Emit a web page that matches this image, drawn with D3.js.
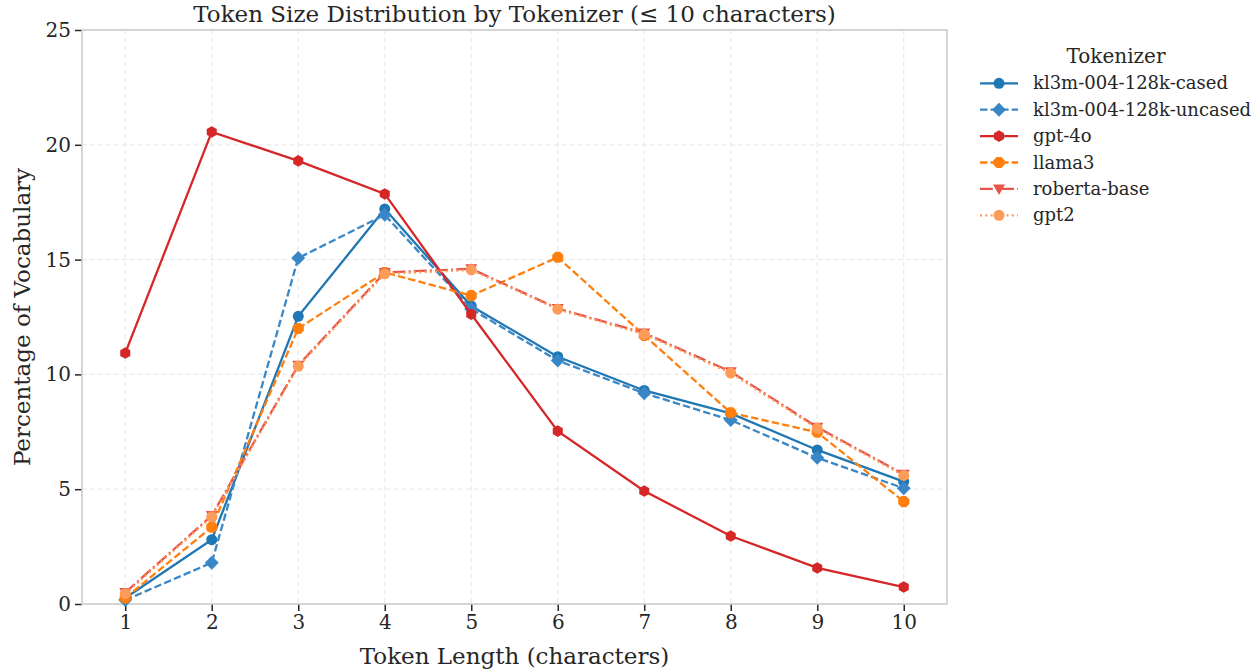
<!DOCTYPE html>
<html><head><meta charset="utf-8">
<script src="https://cdn.jsdelivr.net/npm/d3@7"></script>
<style>body{margin:0;background:#fff;} text{font-family:"DejaVu Serif",serif;fill:#262626;}</style>
</head><body><svg id="c" width="1260" height="670"></svg>
<script>
const lengths = [1,2,3,4,5,6,7,8,9,10];
const yTicks = [0,5,10,15,20,25];
const seriesNames = ["kl3m-004-128k-cased","kl3m-004-128k-uncased","gpt-4o","llama3","roberta-base","gpt2"];
const kl3mCased   = [0.26, 2.8, 12.53, 17.2, 12.98, 10.77, 9.3, 8.3, 6.71, 5.33];
const kl3mUncased = [0.17, 1.8, 15.07, 16.95, 12.85, 10.6, 9.18, 8.01, 6.37, 5.04];
const gpt4o       = [10.93, 20.56, 19.3, 17.86, 12.62, 7.53, 4.92, 2.96, 1.57, 0.74];
const llama3      = [0.26, 3.35, 12.0, 14.44, 13.43, 15.1, 11.7, 8.33, 7.48, 4.46];
const roberta     = [0.5, 3.85, 10.4, 14.44, 14.6, 12.87, 11.8, 10.12, 7.7, 5.65];
const gpt2        = [0.45, 3.8, 10.35, 14.38, 14.55, 12.84, 11.75, 10.06, 7.65, 5.6];
const colors = ["#1f77b4","#3a87c8","#d62728","#ff7f0e","#e8534a","#fd9b58"];
const dashes = [null,"7.4,3.2",null,"7.4,3.2","12.8,3.2,2,3.2","2,3.3"];
const markers = ["circle","diamond","hex","oct","tri","circle"];
const allVals = [kl3mCased,kl3mUncased,gpt4o,llama3,roberta,gpt2];

const svg = d3.select("#c");
const m = {l:82, r:947, t:30, b:604};
const x = d3.scaleLinear().domain([0.5,10.5]).range([m.l,m.r]);
const y = d3.scaleLinear().domain([0,25]).range([m.b,m.t]);

// grid
const g = svg.append("g");
g.selectAll(".gx").data(lengths).join("line").attr("x1",d=>x(d)).attr("x2",d=>x(d)).attr("y1",m.t).attr("y2",m.b)
 .attr("stroke","#ebebeb").attr("stroke-width",1.2).attr("stroke-dasharray","5,3");
g.selectAll(".gy").data(yTicks).join("line").attr("y1",d=>y(d)).attr("y2",d=>y(d)).attr("x1",m.l).attr("x2",m.r)
 .attr("stroke","#ebebeb").attr("stroke-width",1.2).attr("stroke-dasharray","5,3");

// axes
const xa = svg.append("g").attr("transform",`translate(0,${m.b})`).call(d3.axisBottom(x).tickValues(lengths).tickSize(7).tickPadding(4));
const ya = svg.append("g").attr("transform",`translate(${m.l},0)`).call(d3.axisLeft(y).tickValues(yTicks).tickSize(7).tickPadding(4));
[xa,ya].forEach(a=>{a.select(".domain").remove();a.selectAll("line").attr("stroke","#262626").attr("stroke-width",1.5);
  a.selectAll("text").attr("font-size",20).attr("font-family","DejaVu Serif").attr("fill","#262626");});
svg.append("rect").attr("x",m.l).attr("y",m.t).attr("width",m.r-m.l).attr("height",m.b-m.t).attr("fill","none").attr("stroke","#cccccc").attr("stroke-width",1.6);

function marker(sel,type,color,cx,cy){
  if(type==="circle") sel.append("circle").attr("cx",cx).attr("cy",cy).attr("r",5.5).attr("fill",color);
  else if(type==="diamond") sel.append("path").attr("d",`M${cx},${cy-7}L${cx+7},${cy}L${cx},${cy+7}L${cx-7},${cy}Z`).attr("fill",color);
  else if(type==="hex"){ const pts=d3.range(6).map(i=>{const a=Math.PI/3*i-Math.PI/2;return [cx+5.8*Math.cos(a),cy+5.8*Math.sin(a)];});
    sel.append("path").attr("d","M"+pts.join("L")+"Z").attr("fill",color);}
  else if(type==="oct"){ const pts=d3.range(8).map(i=>{const a=Math.PI/4*i+Math.PI/8;return [cx+6*Math.cos(a),cy+6*Math.sin(a)];});
    sel.append("path").attr("d","M"+pts.join("L")+"Z").attr("fill",color);}
  else if(type==="tri") sel.append("path").attr("d",`M${cx-6},${cy-4.5}L${cx+6},${cy-4.5}L${cx},${cy+6}Z`).attr("fill",color);
}

const line = d3.line().x((d,i)=>x(lengths[i])).y(d=>y(d));
allVals.forEach((vals,k)=>{
  const s = svg.append("g");
  s.append("path").attr("d",line(vals)).attr("fill","none").attr("stroke",colors[k]).attr("stroke-width",2.3)
   .attr("stroke-dasharray",dashes[k]);
  vals.forEach((v,i)=>marker(s,markers[k],colors[k],x(lengths[i]),y(v)));
});

// labels
svg.append("text").attr("x",(m.l+m.r)/2).attr("y",22).attr("text-anchor","middle").attr("font-size",23).text("Token Size Distribution by Tokenizer (≤ 10 characters)");
svg.append("text").attr("x",(m.l+m.r)/2).attr("y",664).attr("text-anchor","middle").attr("font-size",23).text("Token Length (characters)");
svg.append("text").attr("transform",`translate(30,${(m.t+m.b)/2}) rotate(-90)`).attr("text-anchor","middle").attr("font-size",23).text("Percentage of Vocabulary");

// legend
const lg = svg.append("g");
lg.append("text").attr("x",1116).attr("y",63).attr("text-anchor","middle").attr("font-size",20).text("Tokenizer");
seriesNames.forEach((n,k)=>{
  const yy = 83.3 + k*26.4;
  lg.append("line").attr("x1",980).attr("x2",1018).attr("y1",yy).attr("y2",yy).attr("stroke",colors[k]).attr("stroke-width",2.3).attr("stroke-dasharray",dashes[k]);
  marker(lg,markers[k],colors[k],999,yy);
  lg.append("text").attr("x",1033).attr("y",yy+6).attr("font-size",18).text(n);
});
</script></body></html>
